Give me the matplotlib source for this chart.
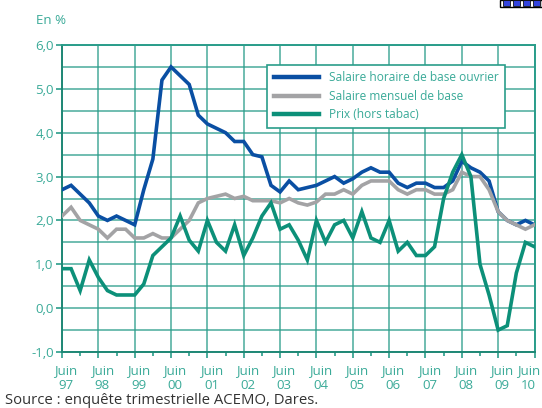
import matplotlib
matplotlib.use("Agg")
import matplotlib.pyplot as plt
from matplotlib.patches import Rectangle
from matplotlib.ticker import FuncFormatter, MultipleLocator
from matplotlib.transforms import ScaledTranslation
import numpy as np

# ---- data (quarterly, Juin 97 -> Juin 10) ----
years = ["97", "98", "99", "00", "01", "02", "03", "04", "05", "06", "07", "08", "09", "10"]

horaire_ouvrier = [2.7, 2.8, 2.6, 2.4, 2.1, 2.0, 2.1, 2.0, 1.9, 2.7, 3.4, 5.2, 5.5,
                   5.3, 5.1, 4.4, 4.2, 4.1, 4.0, 3.8, 3.8, 3.5, 3.45, 2.8, 2.65, 2.9,
                   2.7, 2.75, 2.8, 2.9, 3.0, 2.85, 2.95, 3.1, 3.2, 3.1, 3.1, 2.85, 2.75,
                   2.85, 2.85, 2.75, 2.75, 2.9, 3.35, 3.2, 3.1, 2.9, 2.2, 2.0, 1.9, 2.0, 1.9]

mensuel = [2.1, 2.3, 2.0, 1.9, 1.8, 1.6, 1.8, 1.8, 1.6, 1.6, 1.7, 1.6, 1.6,
           1.8, 2.0, 2.4, 2.5, 2.55, 2.6, 2.5, 2.55, 2.45, 2.45, 2.45, 2.4, 2.5,
           2.4, 2.35, 2.42, 2.6, 2.6, 2.7, 2.6, 2.8, 2.9, 2.9, 2.9, 2.7, 2.6,
           2.7, 2.7, 2.6, 2.6, 2.7, 3.1, 3.0, 3.0, 2.7, 2.2, 2.0, 1.9, 1.8, 1.9]

prix = [0.9, 0.9, 0.4, 1.1, 0.7, 0.4, 0.3, 0.3, 0.3, 0.55, 1.2, 1.4, 1.6,
        2.1, 1.55, 1.3, 2.0, 1.5, 1.3, 1.9, 1.2, 1.6, 2.1, 2.4, 1.8, 1.9,
        1.55, 1.1, 2.0, 1.5, 1.9, 2.0, 1.6, 2.2, 1.6, 1.5, 2.0, 1.3, 1.5,
        1.2, 1.2, 1.4, 2.5, 3.1, 3.5, 3.0, 1.0, 0.3, -0.5, -0.4, 0.8, 1.5, 1.4]

labels = ["Salaire horaire de base ouvrier", "Salaire mensuel de base", "Prix (hors tabac)"]
colors = ["#0A4FA3", "#A3A3A5", "#0C9079"]
# ----------------------------------------------

TEAL = "#2A9D8A"
TEXT = "#3AAA98"

plt.rcParams["font.family"] = ["Open Sans", "DejaVu Sans"]

fig = plt.figure(figsize=(5.42, 4.08), dpi=100)
ax = fig.add_axes([62 / 542, 1 - 352 / 408, (534.5 - 62) / 542, (352 - 45) / 408])

q = np.arange(len(prix))
for vals, lab, col in zip([horaire_ouvrier, mensuel, prix], labels, colors):
    ax.plot(q, vals, color=col, lw=2.6, label=lab, solid_joinstyle="miter", zorder=3)

ax.set_xlim(0, len(prix) - 1)
ax.set_ylim(-1, 6)

# grid
ax.yaxis.set_major_locator(MultipleLocator(1))
ax.yaxis.set_minor_locator(MultipleLocator(0.5))
ax.xaxis.set_major_locator(MultipleLocator(4))
ax.xaxis.set_minor_locator(MultipleLocator(2))
ax.grid(which="both", axis="y", color=TEAL, lw=1.1, alpha=0.85)
ax.grid(which="major", axis="x", color=TEAL, lw=1.1, alpha=0.85)
ax.set_axisbelow(True)

ax.yaxis.set_major_formatter(FuncFormatter(lambda v, p: f"{v:.1f}".replace(".", ",")))
ax.set_xticks(np.arange(0, len(prix), 4))
ax.set_xticklabels([f"Juin\n{y}" for y in years])

ax.tick_params(axis="y", which="major", colors=TEAL, labelcolor=TEXT, labelsize=9.5, length=4, width=1.2, pad=2)
ax.tick_params(axis="y", which="minor", length=0)
ax.tick_params(axis="x", which="major", colors=TEAL, labelcolor=TEXT, labelsize=9.5, length=4, width=1.2, pad=5)
ax.tick_params(axis="x", which="minor", colors=TEAL, length=3, width=1.2)
xlbls = ax.get_xticklabels()
for i, lbl in enumerate(xlbls):
    lbl.set_linespacing(1.15)
    dx = 4 if i < len(xlbls) - 1 else -6
    lbl.set_transform(lbl.get_transform() + ScaledTranslation(dx / 100, 0, fig.dpi_scale_trans))

for s in ax.spines.values():
    s.set_color(TEAL)
    s.set_linewidth(1.4)
ax.spines["left"].set_color("#1E8775")
ax.spines["bottom"].set_color("#1E8775")

leg = ax.legend(loc="upper right", bbox_to_anchor=(0.95, 0.955), fontsize=8.6,
                frameon=True, fancybox=False, handlelength=3.8, handletextpad=0.8,
                borderpad=0.55, labelspacing=0.45, labelcolor=TEXT)
leg.get_frame().set_edgecolor(TEAL)
leg.get_frame().set_linewidth(1.2)
leg.get_frame().set_alpha(1)
for line in leg.get_lines():
    line.set_linewidth(3.2)

fig.text(36 / 542, 1 - 20 / 408, "En %", color=TEXT, fontsize=9.5, va="center", ha="left")
fig.text(5 / 542, 1 - 400 / 408, "Source : enquête trimestrielle ACEMO, Dares.",
         color="#333333", fontsize=10.7, va="center", ha="left")

# small icon clipped at top right
fig.patches.append(Rectangle((500 / 542, 1 - 7 / 408), 42 / 542, 7 / 408,
                             transform=fig.transFigure, facecolor="white",
                             edgecolor="black", lw=1))
for i in range(4):
    fig.patches.append(Rectangle(((503 + i * 10) / 542, 1 - 6 / 408), 7 / 542, 6 / 408,
                                 transform=fig.transFigure, facecolor="#3344DD",
                                 edgecolor="#111111", lw=0.6))

fig.savefig("out.png", dpi=100)
